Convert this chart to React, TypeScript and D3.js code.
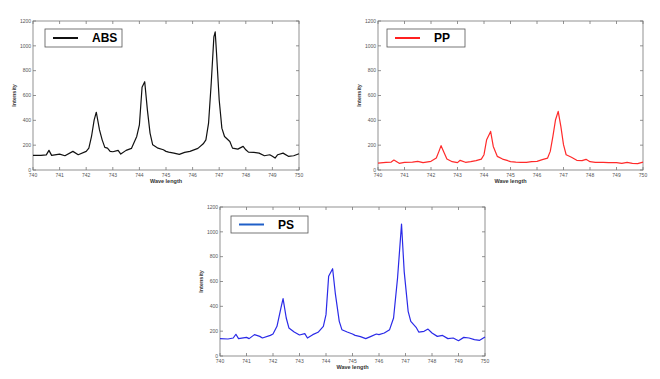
import React, { useEffect, useRef } from "react";
import * as d3 from "d3";

const absX = [740, 740.3, 740.5, 740.6, 740.7, 741.0, 741.2, 741.5, 741.7, 742.0, 742.1, 742.2, 742.3, 742.38, 742.5, 742.6, 742.7, 742.8, 742.9, 743.0, 743.2, 743.3, 743.5, 743.7, 743.9, 744.0, 744.1, 744.2, 744.3, 744.4, 744.5, 744.7, 744.9, 745.0, 745.1, 745.3, 745.5, 745.7, 745.9, 746.0, 746.2, 746.4, 746.5, 746.6, 746.7, 746.8, 746.85, 746.9, 747.0, 747.1, 747.2, 747.4, 747.5, 747.7, 747.9, 748.0, 748.1, 748.3, 748.5, 748.7, 748.9, 749.0, 749.1, 749.2, 749.4, 749.6, 749.8, 750.0];
const absY = [118, 118, 122, 158, 118, 128, 115, 150, 123, 150, 176, 270, 404, 465, 323, 243, 182, 176, 150, 147, 158, 128, 158, 174, 270, 363, 666, 711, 484, 297, 203, 176, 163, 150, 144, 136, 126, 142, 150, 158, 174, 211, 243, 377, 698, 1072, 1112, 938, 564, 337, 270, 230, 176, 168, 190, 163, 144, 142, 136, 115, 123, 110, 96, 123, 136, 110, 115, 131];

const ppX = [740, 740.3, 740.5, 740.6, 740.8, 741.0, 741.3, 741.5, 741.7, 742.0, 742.2, 742.3, 742.38, 742.5, 742.6, 742.8, 743.0, 743.1, 743.3, 743.5, 743.7, 743.9, 744.0, 744.1, 744.25, 744.35, 744.5, 744.7, 744.9, 745.0, 745.2, 745.4, 745.6, 745.8, 746.0, 746.2, 746.4, 746.5, 746.6, 746.7, 746.8, 746.9, 747.0, 747.1, 747.3, 747.5, 747.7, 747.85, 748.0, 748.2, 748.5, 748.7, 749.0, 749.2, 749.4, 749.6, 749.8, 750.0];
const ppY = [56, 62, 64, 80, 54, 62, 64, 70, 59, 70, 96, 150, 196, 137, 88, 67, 59, 78, 62, 67, 75, 88, 123, 244, 311, 190, 110, 88, 75, 67, 64, 62, 62, 67, 70, 83, 96, 150, 271, 405, 472, 351, 204, 123, 102, 78, 75, 86, 67, 62, 62, 59, 59, 54, 62, 54, 51, 64];

const psX = [740, 740.3, 740.5, 740.6, 740.7, 741.0, 741.1, 741.3, 741.5, 741.6, 741.9, 742.0, 742.15, 742.3, 742.38, 742.5, 742.6, 742.8, 743.0, 743.2, 743.3, 743.5, 743.7, 743.9, 744.0, 744.1, 744.25, 744.35, 744.5, 744.6, 744.8, 745.0, 745.1, 745.3, 745.5, 745.7, 745.9, 746.0, 746.2, 746.4, 746.55, 746.7, 746.85, 746.95, 747.1, 747.2, 747.4, 747.5, 747.7, 747.85, 748.0, 748.2, 748.4, 748.6, 748.8, 749.0, 749.2, 749.4, 749.6, 749.8, 750.0];
const psY = [140, 137, 145, 175, 140, 150, 140, 172, 158, 145, 166, 177, 239, 387, 462, 306, 226, 193, 169, 180, 145, 172, 191, 239, 333, 642, 703, 507, 279, 212, 193, 177, 166, 156, 140, 158, 177, 172, 185, 212, 306, 628, 1063, 682, 360, 279, 231, 193, 199, 217, 185, 158, 166, 140, 145, 123, 150, 145, 132, 126, 153];

const xTicks = [740, 741, 742, 743, 744, 745, 746, 747, 748, 749, 750];
const yTicks = [0, 200, 400, 600, 800, 1000, 1200];

const panels = [
  { name: "ABS", xs: absX, ys: absY, color: "#111111", legColor: "#111111", l: 33, r: 299, t: 21, b: 170, leg: [45, 29, 77, 18] },
  { name: "PP", xs: ppX, ys: ppY, color: "#ff2a2a", legColor: "#ff2020", l: 378, r: 643, t: 21, b: 170, leg: [387, 29, 78, 18] },
  { name: "PS", xs: psX, ys: psY, color: "#2a2ae8", legColor: "#1f5fc8", l: 220, r: 485, t: 207, b: 356, leg: [231, 216, 77, 17] },
];

export default function App() {
  const ref = useRef<SVGSVGElement | null>(null);
  useEffect(() => {
    const svg = d3.select(ref.current);
    svg.selectAll("*").remove();
    svg.append("rect").attr("width", 660).attr("height", 379).attr("fill", "#fff");
    panels.forEach((p) => {
      const x = d3.scaleLinear().domain([740, 750]).range([p.l, p.r]);
      const y = d3.scaleLinear().domain([0, 1200]).range([p.b, p.t]);
      const g = svg.append("g");
      g.append("rect").attr("x", p.l).attr("y", p.t).attr("width", p.r - p.l).attr("height", p.b - p.t)
        .attr("fill", "#fff").attr("stroke", "#777").attr("stroke-width", 0.8);
      const tick = "#777";
      xTicks.forEach((v) => {
        const xx = x(v);
        g.append("line").attr("x1", xx).attr("x2", xx).attr("y1", p.b).attr("y2", p.b - 3).attr("stroke", tick).attr("stroke-width", 0.8);
        g.append("line").attr("x1", xx).attr("x2", xx).attr("y1", p.t).attr("y2", p.t + 3).attr("stroke", tick).attr("stroke-width", 0.8);
        g.append("text").attr("x", xx).attr("y", p.b + 6.5).attr("text-anchor", "middle")
          .attr("font-size", 5).attr("font-family", "Liberation Sans, Arial, sans-serif").attr("fill", "#555").text(String(v));
      });
      yTicks.forEach((v) => {
        const yy = y(v);
        g.append("line").attr("x1", p.l).attr("x2", p.l + 3).attr("y1", yy).attr("y2", yy).attr("stroke", tick).attr("stroke-width", 0.8);
        g.append("line").attr("x1", p.r).attr("x2", p.r - 3).attr("y1", yy).attr("y2", yy).attr("stroke", tick).attr("stroke-width", 0.8);
        g.append("text").attr("x", p.l - 2).attr("y", yy + 1.7).attr("text-anchor", "end")
          .attr("font-size", 5).attr("font-family", "Liberation Sans, Arial, sans-serif").attr("fill", "#555").text(String(v));
      });
      g.append("text").attr("x", (p.l + p.r) / 2).attr("y", p.b + 12.5).attr("text-anchor", "middle")
        .attr("font-size", 5.5).attr("font-weight", "bold").attr("font-family", "Liberation Sans, Arial, sans-serif").attr("fill", "#333").text("Wave length");
      g.append("text").attr("transform", `translate(${p.l - 17},${(p.t + p.b) / 2}) rotate(-90)`).attr("text-anchor", "middle")
        .attr("font-size", 5.5).attr("font-weight", "bold").attr("font-family", "Liberation Sans, Arial, sans-serif").attr("fill", "#333").text("Intensity");
      const pts = p.xs.map((xv, i) => [xv, p.ys[i]] as [number, number]);
      const line = d3.line<[number, number]>().x((d) => x(d[0])).y((d) => y(d[1]));
      g.append("path").attr("d", line(pts)).attr("fill", "none").attr("stroke", p.color).attr("stroke-width", 1.2).attr("stroke-linejoin", "round");
      const [lx, ly, lw, lh] = p.leg;
      g.append("rect").attr("x", lx).attr("y", ly).attr("width", lw).attr("height", lh).attr("fill", "#fff").attr("stroke", "#555").attr("stroke-width", 0.8);
      g.append("line").attr("x1", lx + 8).attr("x2", lx + 33).attr("y1", ly + lh / 2).attr("y2", ly + lh / 2).attr("stroke", p.legColor).attr("stroke-width", 2);
      g.append("text").attr("x", lx + 47).attr("y", ly + lh / 2 + 4.3).attr("font-size", 12).attr("font-weight", "bold")
        .attr("font-family", "Liberation Sans, Arial, sans-serif").attr("fill", "#000").text(p.name);
    });
  }, []);
  return <svg ref={ref} width={660} height={379} style={{ position: "absolute", left: 0, top: 0 }} />;
}
